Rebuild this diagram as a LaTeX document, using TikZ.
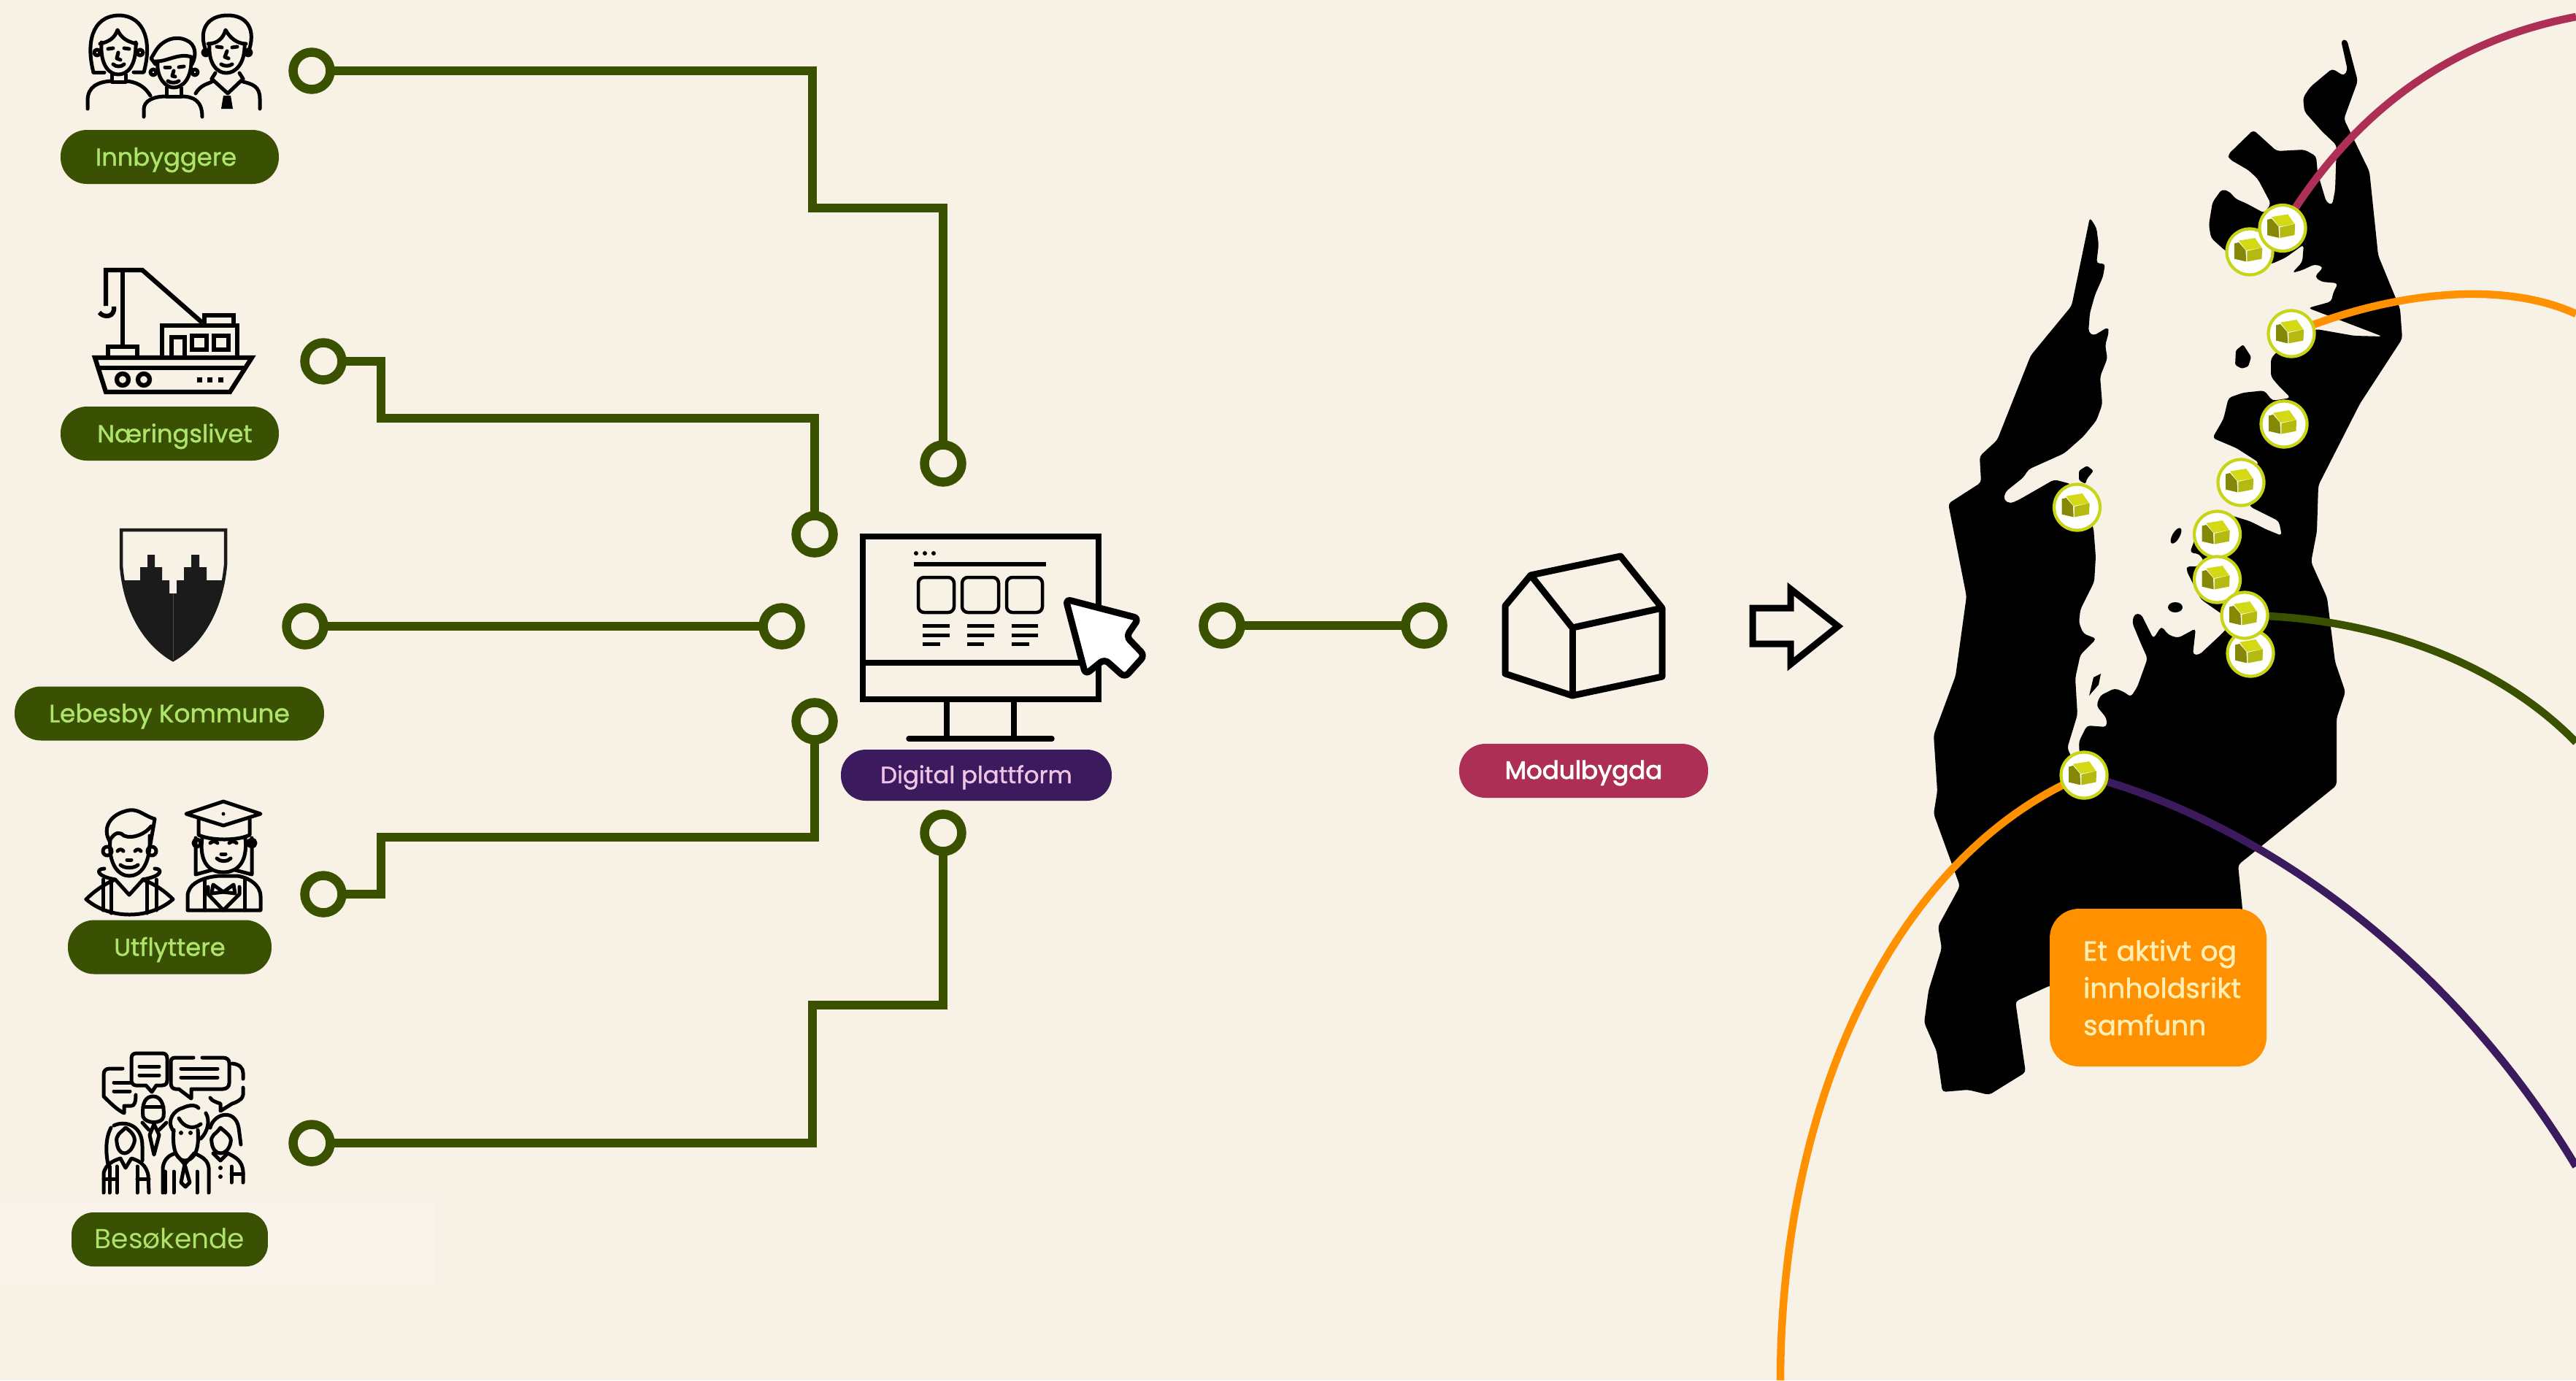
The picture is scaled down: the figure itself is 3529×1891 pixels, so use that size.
\documentclass[tikz,border=0pt]{standalone}
\usepackage{fontspec}
\setmainfont{Poppins}[FakeBold=1.2]
\newfontfamily\heavyfont{Poppins}[FakeBold=2.6]
\newfontfamily\lightfont{Poppins}
\usetikzlibrary{calc}
\definecolor{bgc}{HTML}{F7F1E6}
\definecolor{stripec}{HTML}{F9F3EC}
\definecolor{pillgreen}{HTML}{3A5002}
\definecolor{linegreen}{HTML}{3A5200}
\definecolor{textgreen}{HTML}{AEE36C}
\definecolor{purplec}{HTML}{3B1A5E}
\definecolor{pinkc}{HTML}{EFC4E4}
\definecolor{redc}{HTML}{AD2F55}
\definecolor{orangec}{HTML}{FF9100}
\definecolor{creamc}{HTML}{FFEFB4}
\definecolor{ringc}{HTML}{C8D416}
\definecolor{roofc}{HTML}{D3D915}
\definecolor{leftc}{HTML}{858806}
\definecolor{rightc}{HTML}{B4BA10}
\definecolor{shieldc}{HTML}{1B1B1B}
\pgfdeclarelayer{land}
\pgfdeclarelayer{curves}
\pgfsetlayers{land,curves,main}
\tikzset{
  x=0.02cm,y=-0.02cm,
  ring/.style={circle,draw=linegreen,line width=0.25cm,minimum size=1.02cm,inner sep=0pt,outer sep=0pt},
  conn/.style={draw=linegreen,line width=0.25cm,line join=miter},
  pill/.style={fill=pillgreen,text=textgreen,rounded corners=0.72cm,inner sep=0pt,minimum height=1.48cm,text height=0.5cm,text depth=0.02cm,font=\fontsize{19.2pt}{23pt}\selectfont},
  route/.style={line width=0.21cm},
  iconln/.style={draw=black,line width=0.1cm,line cap=round,line join=round},
  iconth/.style={draw=black,line width=0.125cm,line join=miter},
  blk/.style={draw=black,line width=0.18cm,line join=round},
  markerdisc/.style={circle,draw=ringc,fill=white,line width=0.085cm,minimum size=1.26cm,inner sep=0pt,outer sep=0pt},
}
\newcommand{\mapmarker}[3]{%
  \begin{scope}[shift={(#2,#3)}]
    \node[markerdisc] (#1) at (0,0) {};
    \fill[leftc] (-21,-11.5) -- (-15,-13) -- (-5.6,-2) -- (-4.8,13.4) -- (-21,9.6) -- cycle;
    \fill[roofc] (-15,-15.3) -- (7.2,-19) -- (16.4,-5.7) -- (-4.8,-2) -- cycle;
    \fill[rightc] (-3.6,-1.1) -- (17.2,-5.7) -- (16.4,9.6) -- (-3.6,13.4) -- cycle;
  \end{scope}}
\begin{document}
\begin{tikzpicture}
\useasboundingbox (0,0) rectangle (3529,1891);
\begin{pgfonlayer}{land}
\fill[bgc] (0,0) rectangle (3529,1891);
\fill[stripec] (0,1647) rectangle (596,1758);
% land
\fill[black,rounded corners=0.09cm]
 (3207,55) -- (3215,54) -- (3230,111) -- (3211,163) -- (3246,235) -- (3258,350) -- (3281,406) -- (3288,423) -- (3291,464)
 -- (3233,553) -- (3176,665) -- (3174,728) -- (3166,770) -- (3188,819) -- (3199,907) -- (3213,948) -- (3201,984) -- (3201,1076)
 -- (3066,1185) -- (3072,1245) -- (3072,1350) -- (2809,1350) -- (2761,1372) -- (2775,1469) -- (2725,1500) -- (2696,1493) -- (2661,1496)
 -- (2653,1440) -- (2636,1401) -- (2642,1357) -- (2660,1299) -- (2655,1269) -- (2685,1214) -- (2649,1115) -- (2654,1084) -- (2649,1007)
 -- (2679,926) -- (2694,817) -- (2669,690) -- (2714,661) -- (2712,625) -- (2736,603) -- (2782,487) -- (2838,419) -- (2863,298)
 -- (2872,312) -- (2875,335) -- (2872,361) -- (2884,361) -- (2881,379) -- (2870,404) -- (2863,429) -- (2861,455) -- (2868,460)
 -- (2888,448) -- (2889,455) -- (2884,473) -- (2887,491) -- (2877,516) -- (2880,554) -- (2872,576) -- (2854,598) -- (2828,621)
 -- (2779,643) -- (2772,654) -- (2747,674) -- (2745,685) -- (2754,690) -- (2767,684) -- (2814,657) -- (2837,663) -- (2868,723)
 -- (2871,763) -- (2869,797) -- (2850,835) -- (2848,853) -- (2854,868) -- (2872,875) -- (2850,897) -- (2843,929) -- (2846,979)
 -- (2832,1025) -- (2850,1062) -- (2848,1016) -- (2859,994) -- (2886,996) -- (2886,984) -- (2872,967) -- (2877,953) -- (2897,943)
 -- (2910,948) -- (2919,955) -- (2928,941) -- (2942,902) -- (2933,882) -- (2921,853) -- (2924,841) -- (2933,841) -- (2950,875)
 -- (2961,858) -- (2971,870) -- (2984,874) -- (3008,861) -- (3004,897) -- (3013,897) -- (3044,868) -- (3060,850) -- (3042,840)
 -- (3015,821) -- (2995,781) -- (2997,775) -- (3008,777) -- (3020,770) -- (3013,759) -- (3000,757) -- (3006,741) -- (3033,699)
 -- (3082,714) -- (3104,725) -- (3126,734) -- (3122,714) -- (3082,694) -- (3080,660) -- (3091,638) -- (3095,634) -- (3064,614) -- (3031,600)
 -- (3046,574) -- (3053,545) -- (3073,538) -- (3102,535) -- (3113,549) -- (3138,545) -- (3122,529) -- (3111,516) -- (3111,491) -- (3140,460)
 -- (3174,451) -- (3225,460) -- (3264,461) -- (3225,446) -- (3162,422) -- (3194,413) -- (3196,402) -- (3203,388) -- (3180,386)
 -- (3171,379) -- (3183,366) -- (3171,362) -- (3154,370) -- (3140,374) -- (3154,359) -- (3156,335) -- (3131,353) -- (3111,362)
 -- (3049,344) -- (3029,326) -- (3026,308) -- (3031,277) -- (3044,259) -- (3055,263) -- (3062,272) -- (3078,279) -- (3102,292) -- (3111,279)
 -- (3093,245) -- (3080,233) -- (3054,218) -- (3052,212) -- (3087,178) -- (3119,207) -- (3157,205) -- (3173,214) -- (3175,237)
 -- (3187,277) -- (3195,281) -- (3199,260) -- (3201,199) -- (3181,180) -- (3157,153) -- (3155,134) -- (3165,119) -- (3195,94)
 -- (3211,104) -- (3216,96) -- cycle;
% islands
\fill[black,rounded corners=0.05cm] (3073,472) -- (3084,489) -- (3080,502) -- (3071,505) -- (3062,500) -- (3063,480) -- cycle;
\fill[black,rounded corners=0.05cm] (2848,645) -- (2859,638) -- (2868,645) -- (2859,656) -- (2857,663) -- (2848,658) -- cycle;
\fill[black,rotate around={60:(2981,734)}] (2981,734) ellipse (12 and 5);
\fill[black] (2980,832) ellipse (10 and 7);
\fill[black] (2862,953) -- (2868,928) -- (2878,923) -- (2875,938) -- cycle;
\end{pgfonlayer}

% rings and connectors
\node[ring] (r1) at (427,97) {};
\node[ring] (r2) at (443,495) {};
\node[ring] (r3) at (418,858) {};
\node[ring] (r4) at (443,1225) {};
\node[ring] (r5) at (427,1566) {};
\node[ring] (t1) at (1292,635) {};
\node[ring] (t2) at (1116,732) {};
\node[ring] (t3) at (1071,858) {};
\node[ring] (t4) at (1116,988) {};
\node[ring] (t5) at (1292,1141) {};
\node[ring] (u1) at (1674,857) {};
\node[ring] (u2) at (1951,857) {};
\draw[conn] (r1.east) -- (1113,97) -- (1113,285) -- (1292,285) -- (t1.north);
\draw[conn] (r2.east) -- (522,495) -- (522,573) -- (1116,573) -- (t2.north);
\draw[conn] (r3.east) -- (t3.west);
\draw[conn] (r4.east) -- (522,1225) -- (522,1147) -- (1116,1147) -- (t4.south);
\draw[conn] (r5.east) -- (1113,1566) -- (1113,1377) -- (1292,1377) -- (t5.south);
\draw[conn] (u1.east) -- (u2.west);

% pills
\node[pill,minimum width=5.98cm] (p1) at (232.5,215) {\hspace*{-0.2cm}Innbyggere};
\node[pill,minimum width=5.98cm] (p2) at (232.5,594) {\hspace*{0.28cm}Næringslivet};
\node[pill,minimum width=8.48cm,font=\fontsize{19.6pt}{23pt}\selectfont] (p3) at (232,977.5) {Lebesby Kommune};
\node[pill,minimum width=5.58cm] (p4) at (232.5,1297.5) {Utflyttere};
\node[pill,minimum width=5.38cm,rounded corners=0.6cm,font=\fontsize{21.4pt}{27pt}\lightfont] (p5) at (232.5,1698) {Besøkende};
\node[pill,minimum width=7.42cm,minimum height=1.4cm,rounded corners=0.68cm,fill=purplec,text=pinkc,text height=0.46cm,font=\fontsize{18.4pt}{22pt}\selectfont] (dp) at (1337.5,1062) {Digital plattform};
\node[pill,minimum width=6.82cm,rounded corners=0.72cm,fill=redc,text=white,text height=0.46cm,font=\fontsize{19.4pt}{24pt}\heavyfont] (mb) at (2169.5,1056) {Modulbygda};
\node[fill=orangec,text=creamc,rounded corners=0.8cm,minimum width=5.94cm,minimum height=4.32cm,inner sep=0pt,text width=4.1cm,align=left,font=\fontsize{21.4pt}{29pt}\selectfont] (card) at (2956.5,1353) {\makebox[0pt][l]{Et aktivt og}\\\makebox[0pt][l]{innholdsrikt}\\\makebox[0pt][l]{samfunn}};

% People icon
\begin{scope}[iconln]
 \draw (128,99) .. controls (118,60) and (125,22) .. (163,21) .. controls (200,22) and (208,60) .. (197,99) -- (183,99);
 \draw (128,99) -- (143,99);
 \draw (137,60) .. controls (150,57) and (157,52) .. (161,41) .. controls (166,52) and (174,57) .. (187,60);
 \draw (139,58) .. controls (137,90) and (150,102) .. (162,102) .. controls (175,102) and (187,90) .. (186,58);
 \draw (133,72) circle (4); \draw (192,72) circle (4);
 \draw (148,67) -- (155,66); \draw (170,66) -- (177,67); \draw (162,72) -- (160,80) -- (165,82);
 \draw (155,88) .. controls (159,92) and (166,92) .. (170,88);
 \draw (153,102) -- (153,112) -- (172,112) -- (172,102);
 \draw (120,149) -- (120,138) .. controls (120,118) and (135,112) .. (153,111);
 \draw (172,111) .. controls (187,112) and (198,118) .. (206,131);
 % boy
 \draw (213,88) -- (207,80) -- (213,70) .. controls (222,55) and (240,48) .. (255,55) .. controls (268,60) and (270,75) .. (263,88);
 \draw (213,84) .. controls (228,85) and (245,72) .. (262,78);
 \draw (216,84) .. controls (214,108) and (228,120) .. (238,120) .. controls (250,120) and (263,108) .. (262,80);
 \draw (210,99) circle (4); \draw (267,99) circle (4);
 \draw (226,92) -- (233,92); \draw (245,92) -- (252,91); \draw (238,97) -- (236,104) -- (240,105);
 \draw (230,111) .. controls (234,114) and (241,114) .. (245,111);
 \draw (228,120) -- (228,132) -- (248,132) -- (248,120);
 \draw (197,160) -- (197,150) .. controls (197,138) and (210,132) .. (228,132);
 \draw (248,132) .. controls (265,132) and (277,138) .. (277,160);
 % man
 \draw (283,72) .. controls (270,40) and (285,21) .. (312,21) .. controls (338,21) and (352,40) .. (340,72);
 \draw (285,60) .. controls (298,60) and (306,52) .. (309,41) .. controls (315,52) and (325,60) .. (337,60);
 \draw (287,60) .. controls (285,88) and (298,100) .. (310,100) .. controls (322,100) and (336,88) .. (335,60);
 \draw (282,72) circle (4); \draw (340,72) circle (4);
 \draw (297,64) -- (304,65); \draw (318,65) -- (325,64); \draw (311,70) -- (308,78) -- (313,80);
 \draw (303,88) .. controls (307,91) and (314,91) .. (318,88);
 \draw (290,108) -- (312,128) -- (333,108);
 \draw (295,100) -- (290,108); \draw (328,100) -- (333,108);
 \draw (268,128) .. controls (275,116) and (285,115) .. (290,112);
 \draw (333,112) .. controls (345,115) and (356,118) .. (356,135) -- (356,149);
 \fill (306,131) -- (316,131) -- (319,149) -- (303,149) -- cycle;
\end{scope}

% Ship icon
\begin{scope}[iconth]
 \draw (145,419) -- (145,370) -- (195,370) -- (277,442);
 \draw (168,370) -- (168,475);
 \draw (156,420) .. controls (158,435) and (142,436) .. (136,428);
 \draw (280,444) -- (280,432) -- (320,432) -- (320,446);
 \draw (222,490) -- (222,446) -- (325,446) -- (325,490);
 \draw (235,490) -- (235,462) -- (253,462) -- (253,490);
 \draw (263,460) rectangle (283,479);
 \draw (293,460) rectangle (313,479);
 \draw (148,490) -- (148,475) -- (188,475) -- (188,490);
 \draw (130,490) -- (345,490) -- (315,537) -- (145,537) -- cycle;
 \draw (135,504) -- (336,504);
 \draw (168,520) circle (8); \draw (197,520) circle (8);
 \fill (270,517) rectangle (277,524); \fill (284,517) rectangle (291,524); \fill (299,517) rectangle (306,524);
\end{scope}

% Shield
\begin{scope}
 \clip (164,724) -- (311,724) -- (311,774) .. controls (306,830) and (281,882) .. (237,905) .. controls (193,882) and (168,830) .. (164,774) -- cycle;
 \fill[shieldc] (170,795) -- (192,795) -- (192,777) -- (202,777) -- (202,760) -- (212,760) -- (212,777) -- (222,777) -- (222,795) -- (232,795) -- (232,813) -- (242,813) -- (242,795) -- (252,795) -- (252,777) -- (262,777) -- (262,760) -- (273,760) -- (273,777) -- (283,777) -- (283,795) -- (310,795) -- (310,910) -- (170,910) -- cycle;
\end{scope}
\draw[shieldc,line width=0.09cm,line join=miter] (166,726) -- (309,726) -- (309,774) .. controls (304,830) and (279,880) .. (237,904) .. controls (195,880) and (170,830) .. (166,774) -- cycle;
\draw[black!70,line width=0.015cm] (237,813) -- (237,904);

% Students icon
\begin{scope}[iconln]
 % boy
 \draw (150,1152) .. controls (140,1135) and (150,1115) .. (177,1110) .. controls (190,1108) and (198,1118) .. (212,1122) -- (208,1145) -- (205,1162);
 \draw (150,1152) .. controls (158,1138) and (165,1140) .. (170,1145) .. controls (182,1150) and (200,1142) .. (207,1132);
 \draw (151,1150) .. controls (148,1185) and (163,1200) .. (177,1200) .. controls (192,1200) and (207,1185) .. (205,1145);
 \draw (147,1166) circle (6); \draw (208,1166) circle (6);
 \draw (161,1166) .. controls (163,1163) and (167,1163) .. (169,1166);
 \draw (185,1166) .. controls (187,1163) and (191,1163) .. (193,1166);
 \draw (165,1185) .. controls (171,1190) and (183,1190) .. (189,1185);
 \draw (174,1178) -- (180,1178);
 \draw (118,1232) .. controls (130,1220) and (145,1210) .. (158,1205) .. controls (130,1200) and (132,1190) .. (143,1190);
 \draw (118,1232) .. controls (150,1260) and (205,1260) .. (237,1232) .. controls (225,1220) and (210,1210) .. (195,1205) .. controls (225,1200) and (222,1190) .. (212,1190);
 \draw (158,1205) -- (177,1226) -- (196,1205);
 \draw (141,1205) -- (141,1247); \draw (152,1205) -- (152,1251);
 \draw (201,1205) -- (201,1251); \draw (214,1205) -- (214,1247);
 % girl
 \draw (255,1115) -- (306,1098) -- (357,1115) -- (306,1131) -- cycle;
 \fill (306,1115) circle (2.5);
 \draw (272,1122) -- (272,1144) .. controls (290,1152) and (325,1152) .. (342,1144) -- (342,1122);
 \draw (277,1148) .. controls (272,1185) and (290,1195) .. (306,1195) .. controls (322,1195) and (340,1185) .. (336,1148);
 \draw (268,1148) -- (268,1198) -- (290,1192); \draw (345,1148) -- (345,1198) -- (322,1192);
 \draw (270,1155) circle (5); \draw (345,1155) circle (5);
 \draw (288,1155) .. controls (291,1152) and (295,1152) .. (298,1155);
 \draw (314,1155) .. controls (317,1152) and (321,1152) .. (324,1155);
 \draw (297,1176) .. controls (302,1181) and (311,1181) .. (316,1176);
 \draw (303,1170) -- (309,1170);
 \draw (257,1247) -- (357,1247) -- (357,1228) .. controls (357,1212) and (340,1202) .. (325,1200) -- (300,1200) .. controls (275,1202) and (257,1212) .. (257,1228) -- cycle;
 \draw (280,1206) -- (280,1247); \draw (335,1206) -- (335,1247);
 \draw (285,1215) -- (285,1225) -- (306,1247) -- (328,1225) -- (328,1215);
 \draw (306,1222) -- (292,1212) -- (290,1224) -- cycle; \draw (306,1222) -- (320,1212) -- (322,1224) -- cycle;
\end{scope}

% Group icon
\begin{scope}[iconln]
 \draw (186,1487) -- (200,1487) -- (208,1496) -- (214,1487) -- (222,1487) .. controls (227,1487) and (229,1484) .. (229,1480) -- (229,1450) .. controls (229,1445) and (226,1443) .. (222,1443) -- (187,1443) .. controls (183,1443) and (180,1445) .. (180,1450) -- (180,1480) .. controls (180,1484) and (183,1487) .. (186,1487);
 \draw (191,1461) -- (218,1461); \draw (191,1473) -- (218,1473);
 \draw (265,1449) -- (240,1449) .. controls (235,1449) and (234,1452) .. (234,1456) -- (234,1484) .. controls (234,1489) and (237,1492) .. (241,1492) -- (245,1492) -- (262,1505) -- (262,1492) -- (305,1492) .. controls (310,1492) and (314,1489) .. (314,1484) -- (314,1456) .. controls (314,1452) and (311,1449) .. (305,1449) -- (277,1449);
 \draw (248,1464) -- (298,1464); \draw (248,1476) -- (298,1476);
 \draw (168,1464) -- (150,1464) .. controls (145,1464) and (142,1467) .. (142,1472) -- (142,1502) .. controls (152,1512) and (160,1520) .. (170,1525) -- (170,1515) -- (180,1515) .. controls (184,1515) and (186,1510) .. (186,1500);
 \draw (156,1483) -- (178,1483); \draw (156,1495) -- (178,1495);
 \draw (318,1457) .. controls (328,1458) and (333,1463) .. (333,1470) -- (333,1478);
 \draw (333,1490) -- (333,1500) .. controls (333,1505) and (325,1510) .. (318,1512) -- (302,1522) -- (302,1512) .. controls (296,1510) and (290,1508) .. (288,1504);
 % back man
 \draw (196,1530) .. controls (194,1510) and (200,1502) .. (210,1502) .. controls (218,1502) and (226,1510) .. (224,1530) .. controls (222,1540) and (200,1540) .. (196,1530);
 \draw (196,1516) -- (224,1516);
 \draw (211,1540) -- (205,1555) -- (211,1582) -- (218,1555) -- cycle;
 \draw (195,1538) -- (204,1548); \draw (228,1538) -- (218,1548);
 % front man
 \draw (238,1548) .. controls (235,1580) and (245,1590) .. (253,1590) .. controls (263,1590) and (274,1580) .. (271,1548);
 \draw (238,1550) .. controls (226,1535) and (240,1520) .. (250,1518) .. controls (262,1512) and (270,1515) .. (272,1518);
 \draw (245,1532) .. controls (252,1545) and (265,1548) .. (275,1540);
 \draw (282,1525) .. controls (288,1535) and (285,1550) .. (275,1560);
 \fill (248,1552) circle (3); \fill (261,1552) circle (3);
 \draw (223,1634) -- (223,1600) .. controls (225,1585) and (235,1582) .. (240,1580);
 \draw (266,1580) .. controls (278,1585) and (285,1590) .. (286,1600) -- (286,1634);
 \draw (240,1580) -- (253,1595) -- (266,1580);
 \draw (253,1595) -- (248,1620) -- (254,1626) -- (260,1620) -- cycle;
 \draw (226,1605) -- (226,1634); \draw (238,1605) -- (238,1634); \draw (270,1605) -- (270,1634);
 % left woman
 \draw (152,1545) .. controls (144,1560) and (145,1580) .. (148,1595);
 \draw (156,1542) .. controls (170,1535) and (195,1540) .. (195,1570) -- (195,1590);
 \draw (172,1545) .. controls (165,1552) and (158,1555) .. (160,1565) .. controls (162,1585) and (178,1585) .. (184,1565) .. controls (186,1557) and (180,1550) .. (172,1545);
 \draw (142,1634) -- (142,1607) .. controls (145,1595) and (155,1590) .. (165,1587) -- (172,1600) -- (180,1587) .. controls (190,1590) and (200,1595) .. (203,1610) -- (204,1634);
 \draw (150,1598) -- (150,1634); \draw (160,1598) -- (160,1634); \draw (142,1615) -- (160,1615);
 \draw (188,1598) -- (188,1634); \draw (204,1615) -- (188,1615);
 % right woman
 \draw (288,1545) .. controls (293,1525) and (322,1518) .. (327,1545) -- (330,1568);
 \draw (302,1545) .. controls (295,1555) and (288,1555) .. (290,1565) .. controls (292,1585) and (312,1585) .. (316,1565) .. controls (318,1557) and (310,1552) .. (302,1545);
 \draw (292,1580) -- (302,1590) -- (312,1580);
 \draw (312,1580) .. controls (322,1585) and (332,1590) .. (333,1605) -- (333,1620);
 \fill (302,1600) circle (3); \fill (302,1612) circle (3);
 \draw (317,1598) -- (317,1620); \draw (333,1608) -- (317,1608);
\end{scope}

% Monitor
\begin{scope}[iconth,line width=0.15cm]
 \draw (1182,735) rectangle (1505,958);
 \draw (1182,908) -- (1505,908);
 \draw (1297,958) -- (1297,1012); \draw (1389,958) -- (1389,1012);
 \draw[line cap=round] (1245,1012) -- (1441,1012);
 \fill (1255,758) circle (3); \fill (1267,758) circle (3); \fill (1279,758) circle (3);
 \draw[line width=0.11cm] (1252,773) -- (1433,773);
 \draw[line width=0.09cm,rounded corners=0.16cm] (1258,791) rectangle (1307,839);
 \draw[line width=0.09cm,rounded corners=0.16cm] (1318,791) rectangle (1368,839);
 \draw[line width=0.09cm,rounded corners=0.16cm] (1379,791) rectangle (1428,839);
 \foreach \xa/\xb/\xc in {1264/1301/1288,1325/1362/1348,1386/1422/1410}{
   \draw[line width=0.1cm] (\xa,857) -- (\xb,857);
   \draw[line width=0.1cm] (\xa,870) -- (\xb,870);
   \draw[line width=0.1cm] (\xa,882) -- (\xc,882);
 }
 \filldraw[fill=white,line width=0.18cm,line join=round,rounded corners=0.14cm] (1460,821) -- (1560,847) -- (1543,872) -- (1568,898) -- (1541,928) -- (1513,903) -- (1487,924) -- cycle;
\end{scope}

% Module house and arrow
\draw[blk] (2062,830) -- (2097,788) -- (2220,762) -- (2277,833) -- (2277,927) -- (2154,953) -- (2062,923) -- cycle;
\draw[blk] (2097,788) -- (2154,860) -- (2277,833);
\draw[blk] (2154,860) -- (2154,953);
\draw[blk,line join=miter] (2401,833) -- (2453,833) -- (2453,807) -- (2518,858) -- (2453,910) -- (2453,882) -- (2401,882) -- cycle;

% Markers
\mapmarker{m2}{3082}{345}
\mapmarker{m1}{3127}{312.5}
\mapmarker{m3}{3139}{457}
\mapmarker{m4}{3129}{581}
\mapmarker{m5}{3070}{661}
\mapmarker{m6}{3037.5}{732}
\mapmarker{m7}{3037.5}{794}
\mapmarker{m9}{3083}{895}
\mapmarker{m8}{3075}{843}
\mapmarker{m10}{2845.5}{695}
\mapmarker{m11}{2855}{1062}

\begin{pgfonlayer}{curves}
 \draw[route,redc] (m1.center) .. controls (3225,150) and (3360,55) .. (3529,23);
 \draw[route,orangec] (m3.center) .. controls (3260,405) and (3420,380) .. (3529,430);
 \draw[route,linegreen] (m8.center) .. controls (3250,845) and (3420,905) .. (3529,1017);
 \draw[route,purplec] (m11.center) .. controls (3080,1120) and (3350,1300) .. (3529,1598);
 \draw[route,orangec] (m11.center) .. controls (2600,1170) and (2440,1500) .. (2439,1891);
\end{pgfonlayer}
\end{tikzpicture}
\end{document}
